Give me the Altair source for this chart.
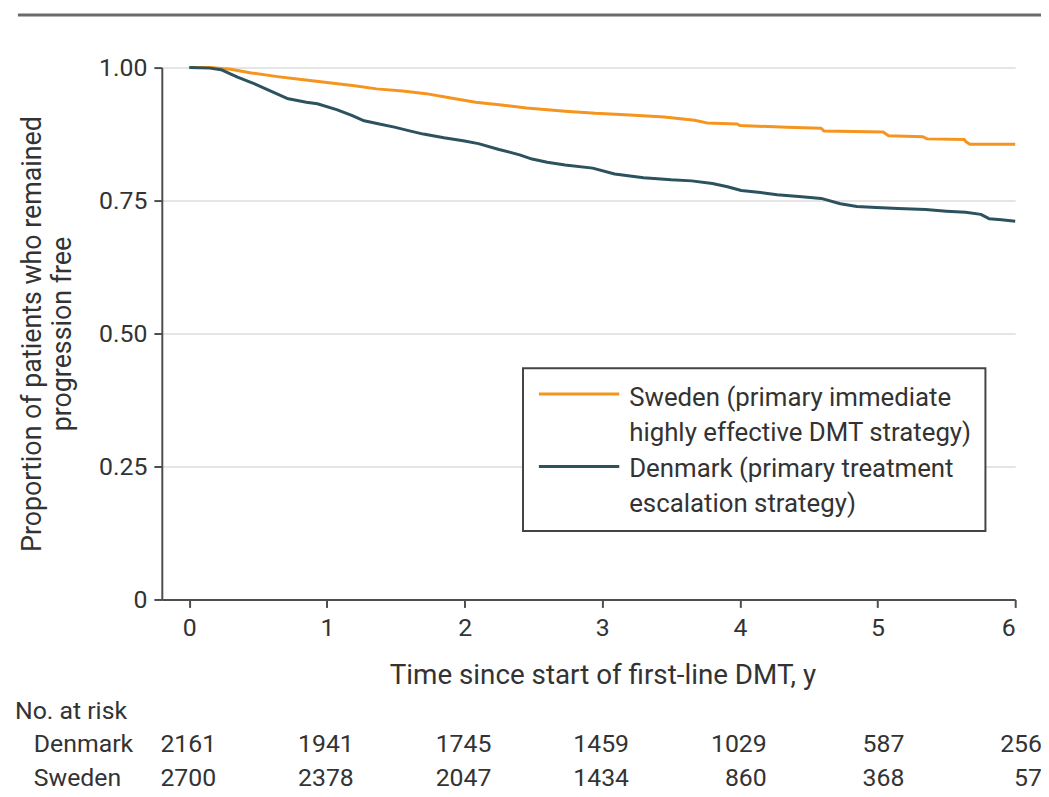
import altair as alt
import pandas as pd

# ---- data ----
series_names = ["Sweden", "Denmark"]
colors = ["#F5951F", "#2B525D"]
legend_labels = [
    ["Sweden (primary immediate", "highly effective DMT strategy)"],
    ["Denmark (primary treatment", "escalation strategy)"],
]

sweden_t = [0, 0.15, 0.3, 0.45, 0.64, 0.8, 1.0, 1.2, 1.36, 1.55, 1.72, 1.9, 2.08, 2.25, 2.45,
            2.73, 2.95, 3.2, 3.45, 3.67, 3.76, 3.98, 4.0, 4.34, 4.59, 4.61, 5.04, 5.08, 5.33,
            5.36, 5.63, 5.64, 5.67, 6.0]
sweden_s = [1.0, 1.0, 0.997, 0.99, 0.983, 0.978, 0.972, 0.966, 0.96, 0.956, 0.951, 0.943, 0.935,
            0.93, 0.924, 0.918, 0.914, 0.911, 0.907, 0.901, 0.896, 0.894, 0.891, 0.888, 0.886,
            0.881, 0.879, 0.872, 0.870, 0.866, 0.865, 0.861, 0.856, 0.856]

denmark_t = [0, 0.15, 0.23, 0.35, 0.47, 0.6, 0.71, 0.85, 0.93, 1.07, 1.18, 1.27, 1.38, 1.49, 1.6,
             1.7, 1.85, 2.0, 2.1, 2.25, 2.4, 2.49, 2.6, 2.73, 2.93, 3.09, 3.3, 3.5, 3.65, 3.8,
             3.91, 4.01, 4.15, 4.27, 4.45, 4.59, 4.73, 4.85, 4.99, 5.15, 5.35, 5.5, 5.64, 5.75,
             5.81, 5.9, 6.0]
denmark_s = [1.0, 0.999, 0.996, 0.982, 0.97, 0.955, 0.942, 0.935, 0.932, 0.921, 0.91, 0.9, 0.894,
             0.888, 0.881, 0.875, 0.868, 0.862, 0.857, 0.846, 0.836, 0.828, 0.822, 0.817, 0.811,
             0.8, 0.793, 0.789, 0.787, 0.782, 0.776, 0.769, 0.765, 0.761, 0.757, 0.754, 0.744,
             0.739, 0.737, 0.735, 0.733, 0.73, 0.728, 0.724, 0.716, 0.714, 0.711]

risk_times = [0, 1, 2, 3, 4, 5, 6]
risk_denmark = ["2161", "1941", "1745", "1459", "1029", "587", "256"]
risk_sweden = ["2700", "2378", "2047", "1434", "860", "368", "57"]

x_ticks = [0, 1, 2, 3, 4, 5, 6]
y_ticks = [0, 0.25, 0.5, 0.75, 1.0]
x_title = "Time since start of first-line DMT, y"
y_title = ["Proportion of patients who remained", "progression free"]

# ---- tables ----
rows = []
for name, ts, ss in [("Sweden", sweden_t, sweden_s), ("Denmark", denmark_t, denmark_s)]:
    for i, (t, s) in enumerate(zip(ts, ss)):
        rows.append({"country": name, "t": t, "s": s, "i": i})
curves = pd.DataFrame(rows)

risk_d = pd.DataFrame({"time": risk_times, "n": risk_denmark})
risk_s = pd.DataFrame({"time": risk_times, "n": risk_sweden})
dummy = pd.DataFrame({"k": [0]})

FONT = "Roboto"
TEXT = "#333333"
AXIS = "#4d4d4d"

xscale = alt.Scale(domain=[-0.2, 6], nice=False, zero=False)
yscale = alt.Scale(domain=[0, 1], nice=False, zero=False)

lines = alt.Chart(curves).mark_line(strokeWidth=3, strokeJoin="round").encode(
    x=alt.X("t:Q", scale=xscale,
            axis=alt.Axis(values=x_ticks, format="d", title=x_title, grid=False,
                          titleX=444, titleY=85, titleBaseline="alphabetic",
                          titleAlign="center", labelPadding=8, titleFontSize=28)),
    y=alt.Y("s:Q", scale=yscale,
            axis=alt.Axis(values=y_ticks,
                          labelExpr="datum.value == 0 ? '0' : format(datum.value, '.2f')",
                          title=y_title, grid=True, gridColor="#dcdcdc", gridWidth=1.5,
                          titlePadding=22, titleLineHeight=30, labelPadding=7,
                          titleFontSize=27)),
    color=alt.Color("country:N", scale=alt.Scale(domain=series_names, range=colors), legend=None),
    order=alt.Order("i:Q"),
)

top_rule = alt.Chart(dummy).mark_rule(color="#6b6b6b", strokeWidth=3).encode(
    x=alt.value(-145), x2=alt.value(890), y=alt.value(-53))

legend_box = alt.Chart(dummy).mark_rect(fill="white", stroke="#444444", strokeWidth=2).encode(
    x=alt.value(364), x2=alt.value(830), y=alt.value(303), y2=alt.value(467))

leg_layers = []
for i, (ly, ty) in enumerate([(329, 341), (402, 413)]):
    leg_layers.append(alt.Chart(dummy).mark_rule(color=colors[i], strokeWidth=3).encode(
        x=alt.value(380), x2=alt.value(461), y=alt.value(ly)))
    leg_layers.append(alt.Chart(dummy).mark_text(
        text=legend_labels[i], align="left", baseline="alphabetic", fontSize=26,
        lineHeight=35, font=FONT, color=TEXT).encode(x=alt.value(471), y=alt.value(ty)))

risk_layers = []
for df, yv in [(risk_d, 690), (risk_s, 724)]:
    risk_layers.append(alt.Chart(df).mark_text(
        align="right", baseline="alphabetic", dx=27, fontSize=25, font=FONT, color=TEXT).encode(
        x=alt.X("time:Q", scale=xscale), y=alt.value(yv), text="n:N"))

risk_labels = []
for txt, xv, yv in [("No. at risk", -148, 656), ("Denmark", -129, 690), ("Sweden", -129, 724)]:
    risk_labels.append(alt.Chart(dummy).mark_text(
        text=txt, align="left", baseline="alphabetic", fontSize=25, font=FONT, color=TEXT).encode(
        x=alt.value(xv), y=alt.value(yv)))

chart = alt.layer(lines, top_rule, legend_box, *leg_layers, *risk_layers, *risk_labels).properties(
    width=860, height=536,
    autosize=alt.AutoSizeParams(type="none"),
    padding={"left": 155, "top": 57, "right": 26, "bottom": 196},
).configure_view(strokeWidth=0).configure_axis(
    labelFont=FONT, titleFont=FONT, labelFontSize=25, labelColor=TEXT, titleColor=TEXT,
    titleFontWeight="normal", domainColor=AXIS, domainWidth=2, tickColor=AXIS, tickWidth=2,
    tickSize=8,
)

chart.save("out.html", embed_options={"renderer": "svg", "actions": False})
